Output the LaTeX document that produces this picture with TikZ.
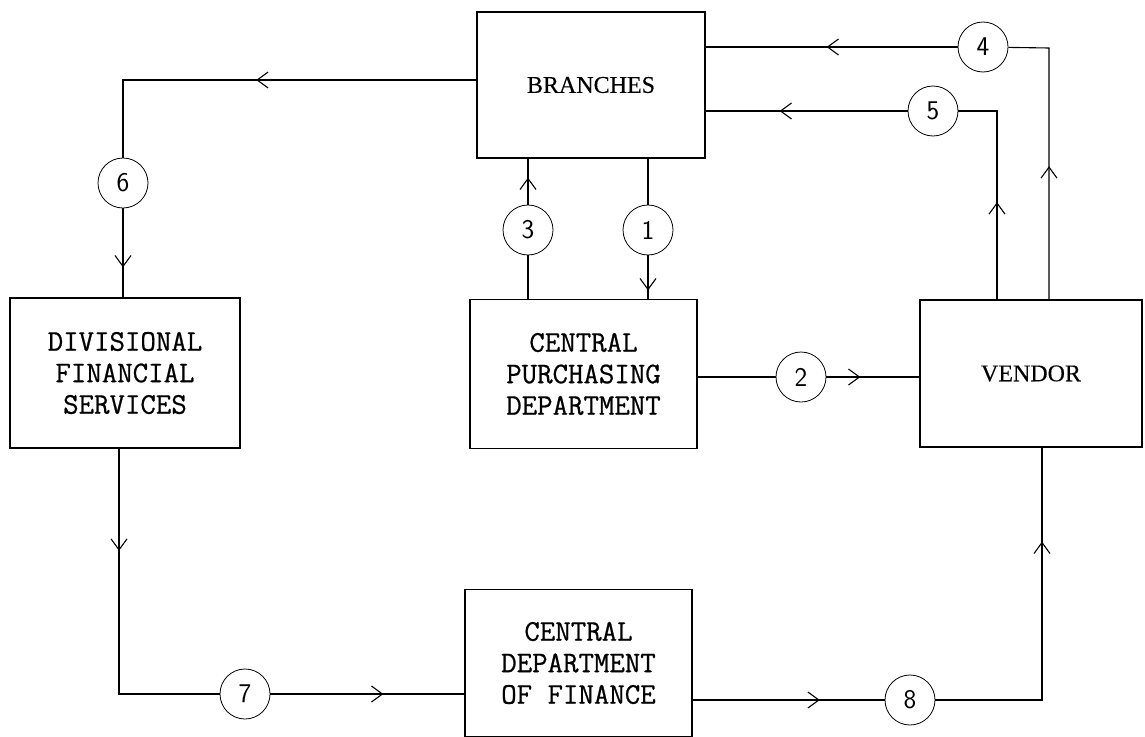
\documentclass[tikz,border=0pt]{standalone}
\usepackage{fontspec}
\usepackage{tikz}
\usetikzlibrary{arrows.meta, decorations.markings}

\newfontfamily\boxserif{Liberation Serif}[FakeBold=0.3]
\newfontfamily\boxmono{Latin Modern Mono}[FakeBold=0.7]
\newcommand{\serifbig}{\boxserif\fontsize{24}{28}\selectfont}

\begin{document}
\begin{tikzpicture}[
  x=1pt, y=-1pt,
  box/.style={draw, rectangle, line width=1.6pt, inner sep=0pt, align=center, font=\boxmono\fontsize{30}{31.5}\selectfont},
  num/.style={draw, circle, line width=0.8pt, minimum size=50pt, inner sep=0pt, font=\sffamily\fontsize{27}{27}\selectfont},
  link/.style={line width=1.1pt},
  arrowat/.style={postaction={decorate}, decoration={markings, mark=at position #1 with {\arrow[line width=1.1pt]{Straight Barb[length=11pt, width=16pt]}}}}
]
\useasboundingbox (0,0) rectangle (1145,736);

% Boxes
\node[box, minimum width=228pt, minimum height=146pt] (branches) at (591,85) {\serifbig BRANCHES};
\node[box, minimum width=230pt, minimum height=150pt] (dfs) at (125,373) {DIVISIONAL\\FINANCIAL\\SERVICES};
\node[box, minimum width=227pt, minimum height=149pt] (cpd) at (583.5,374) {CENTRAL\\PURCHASING\\DEPARTMENT};
\node[box, minimum width=222pt, minimum height=147pt] (vendor) at (1031,373.5) {\serifbig VENDOR};
\node[box, minimum width=227pt, minimum height=147pt] (cdf) at (578.5,663) {CENTRAL\\DEPARTMENT\\OF FINANCE};

% Numbered flows
\node[num] (n1) at (648,230) {1};
\node[num] (n2) at (801,377) {2};
\node[num] (n3) at (528,230) {3};
\node[num] (n4) at (983,47) {4};
\node[num] (n5) at (933,111) {5};
\node[num] (n6) at (123,183) {6};
\node[num] (n7) at (245,694) {7};
\node[num] (n8) at (910,700) {8};

\coordinate (b4) at (1049,48);
\coordinate (b5) at (997,111);
\coordinate (b6) at (123,80);
\coordinate (b7) at (119,694);
\coordinate (b8) at (1042,700);

% 1 and 3: branches <-> purchasing
\draw[link] (n1 |- branches.south) -- (n1);
\draw[link, arrowat=35pt] (n1) -- (n1 |- cpd.north);
\draw[link] (n3 |- cpd.north) -- (n3);
\draw[link, arrowat=27pt] (n3) -- (n3 |- branches.south);

% 2: purchasing -> vendor
\draw[link] (cpd.east |- n2) -- (n2);
\draw[link, arrowat=34pt] (n2) -- (n2 -| vendor.west);

% 4 and 5: vendor -> branches
\draw[link, arrowat=133pt] (b4 |- vendor.north) -- (b4) -- (n4);
\draw[link, arrowat=131pt] (n4) -- (n4 -| branches.east);
\draw[link, arrowat=97pt] (b5 |- vendor.north) -- (b5) -- (n5);
\draw[link, arrowat=128pt] (n5) -- (n5 -| branches.east);

% 6: branches -> divisional
\draw[link, arrowat=220pt] (b6 -| branches.west) -- (b6) -- (n6);
\draw[link, arrowat=59pt] (n6) -- (n6 |- dfs.north);

% 7: divisional -> finance
\draw[link, arrowat=102pt] (b7 |- dfs.south) -- (b7) -- (n7);
\draw[link, arrowat=113pt] (n7) -- (n7 -| cdf.west);

% 8: finance -> vendor
\draw[link, arrowat=127pt] (n8 -| cdf.east) -- (n8);
\draw[link, arrowat=265pt] (n8) -- (b8) -- (b8 |- vendor.south);

\end{tikzpicture}
\end{document}
